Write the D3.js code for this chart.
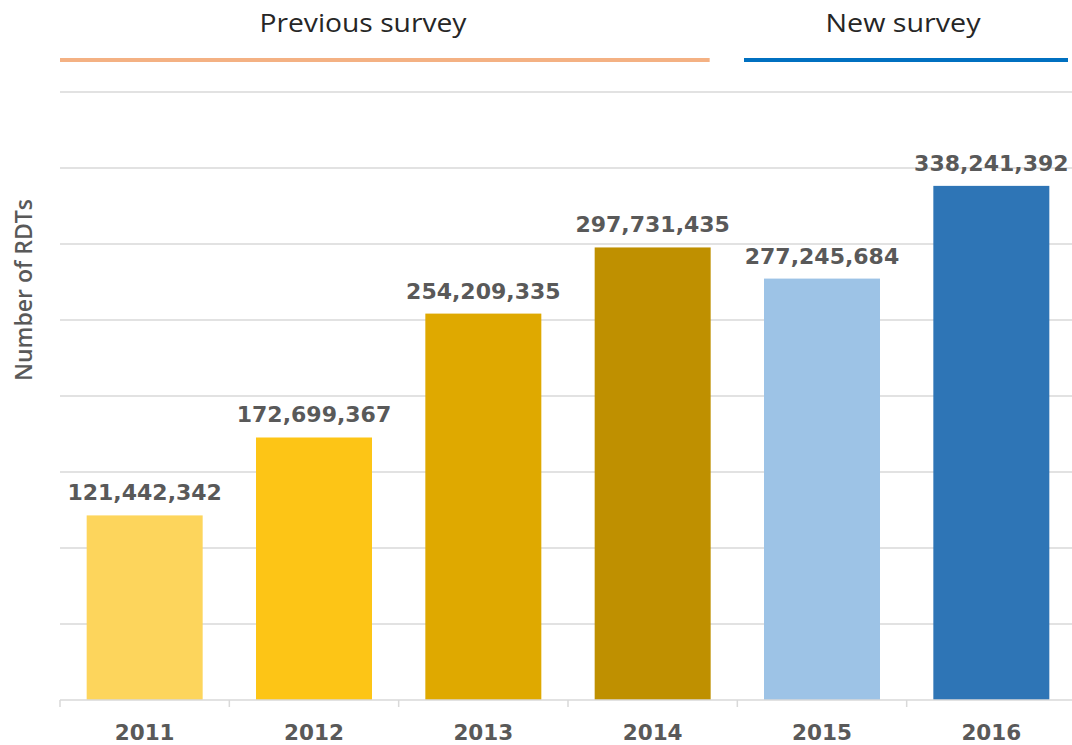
<!DOCTYPE html>
<html>
<head>
<meta charset="utf-8">
<script src="https://cdn.jsdelivr.net/npm/d3@7"></script>
<style>
  body { margin: 0; background: #fff; }
  svg { display: block; }
</style>
</head>
<body>
<script>
// chart data
var years = ['2011', '2012', '2013', '2014', '2015', '2016'];
var rdts = [121442342, 172699367, 254209335, 297731435, 277245684, 338241392];
var barColors = ['#fdd55c', '#fdc516', '#dfa900', '#bf9000', '#9dc3e6', '#2e75b6'];
var surveyNames = ['Previous survey', 'New survey'];
var surveyYears = [['2011', '2014'], ['2015', '2016']];
var surveyColors = ['#f4b183', '#0070c0'];
var yTicks = d3.range(0, 400000001, 50000000);

var W = 1072, H = 745;
var margin = { left: 60, right: -4, top: 92, bottom: 45 };

var svg = d3.select('body').append('svg')
  .attr('width', W)
  .attr('height', H);

var x = d3.scaleBand()
  .domain(years)
  .range([margin.left, W - margin.right])
  .paddingInner(0.315)
  .paddingOuter(0.1575);

var y = d3.scaleLinear()
  .domain([0, 400000000])
  .range([H - margin.bottom, margin.top]);

// gridlines
svg.append('g')
  .selectAll('line')
  .data(yTicks.slice(1))
  .enter().append('line')
  .attr('x1', margin.left)
  .attr('x2', W)
  .attr('y1', function(d) { return y(d); })
  .attr('y2', function(d) { return y(d); })
  .attr('stroke', '#d9d9d9')
  .attr('stroke-width', 1.5);

// bars
svg.append('g')
  .selectAll('rect')
  .data(rdts)
  .enter().append('rect')
  .attr('x', function(d, i) { return x(years[i]); })
  .attr('y', function(d) { return y(d); })
  .attr('width', x.bandwidth())
  .attr('height', function(d) { return y(0) - y(d); })
  .attr('fill', function(d, i) { return barColors[i]; });

// value labels
var fmt = d3.format(',');
svg.append('g')
  .selectAll('text')
  .data(rdts)
  .enter().append('text')
  .attr('x', function(d, i) { return x(years[i]) + x.bandwidth() / 2; })
  .attr('y', function(d) { return y(d) - 15; })
  .attr('text-anchor', 'middle')
  .attr('font-family', 'DejaVu Sans')
  .attr('font-weight', 'bold')
  .attr('font-size', 22)
  .attr('fill', '#595959')
  .text(function(d) { return fmt(d); });

// x axis
var xAxis = svg.append('g')
  .attr('transform', 'translate(0,' + y(0) + ')');
xAxis.append('line')
  .attr('x1', margin.left).attr('x2', W)
  .attr('stroke', '#d9d9d9').attr('stroke-width', 1.5);
xAxis.selectAll('.tick')
  .data(years.concat(['end']))
  .enter().append('line')
  .attr('x1', function(d, i) { return margin.left + i * x.step(); })
  .attr('x2', function(d, i) { return margin.left + i * x.step(); })
  .attr('y1', 0).attr('y2', 7)
  .attr('stroke', '#d9d9d9').attr('stroke-width', 1.5);
xAxis.selectAll('text')
  .data(years)
  .enter().append('text')
  .attr('x', function(d) { return x(d) + x.bandwidth() / 2; })
  .attr('y', 40)
  .attr('text-anchor', 'middle')
  .attr('font-family', 'DejaVu Sans')
  .attr('font-weight', 'bold')
  .attr('font-size', 21.5)
  .attr('fill', '#595959')
  .text(function(d) { return d; });

// y axis title
svg.append('text')
  .attr('transform', 'translate(32,290) rotate(-90)')
  .attr('text-anchor', 'middle')
  .attr('font-family', 'Open Sans')
  .attr('font-weight', 600)
  .attr('font-size', 23)
  .attr('fill', '#595959')
  .attr('textLength', 182)
  .attr('lengthAdjust', 'spacingAndGlyphs')
  .text('Number of RDTs');

// survey headers
var headerX = [363, 903];
var headerLen = [207, 155];
surveyNames.forEach(function(name, i) {
  var x1 = i === 0 ? margin.left : x(surveyYears[i][0]) - 20;
  var x2 = i === 0 ? x(surveyYears[i][1]) + x.bandwidth() - 1 : W - 4;
  svg.append('line')
    .attr('x1', x1).attr('x2', x2)
    .attr('y1', 60).attr('y2', 60)
    .attr('stroke', surveyColors[i])
    .attr('stroke-width', 4);
  svg.append('text')
    .attr('x', headerX[i])
    .attr('y', 32)
    .attr('text-anchor', 'middle')
    .attr('font-family', 'Open Sans')
    .attr('font-size', 25)
    .attr('fill', '#262626')
    .attr('textLength', headerLen[i])
    .attr('lengthAdjust', 'spacingAndGlyphs')
    .text(name);
});
</script>
</body>
</html>
